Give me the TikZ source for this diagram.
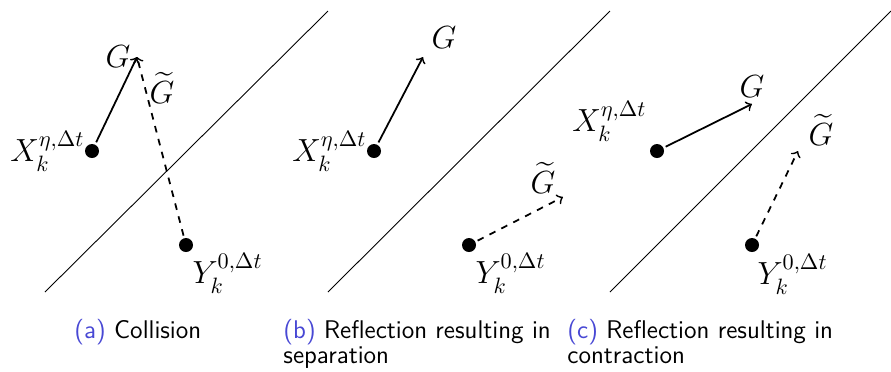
\documentclass[tikz,border=0pt]{standalone}
\usepackage{amsmath}
\definecolor{caplab}{RGB}{72,72,212}
\begin{document}
\begin{tikzpicture}[x=0.45pt,y=-0.45pt,
  wall/.style={line width=0.4pt},
  dotnode/.style={circle,fill=black,inner sep=0pt,minimum size=6.3pt},
  vec/.style={->,line width=0.8pt,shorten <=1pt},
  dvec/.style={->,dashed,line width=0.8pt,shorten <=1pt},
  lbl/.style={inner sep=0.5pt,font=\fontsize{14}{16}\selectfont},
  captext/.style={font=\sffamily\fontsize{11.5}{11}\selectfont,anchor=north west,inner sep=0pt,align=left}]
\useasboundingbox (0,0) rectangle (891,371);
% walls
\coordinate (wa1) at (45,292); \coordinate (wa2) at (328,11);
\coordinate (wb1) at (328,292); \coordinate (wb2) at (610,11);
\coordinate (wc1) at (610,292); \coordinate (wc2) at (891,11);
\draw[wall] (wa1) -- (wa2);
\draw[wall] (wb1) -- (wb2);
\draw[wall] (wc1) -- (wc2);
% panel a
\node[dotnode] (xa) at (92,151) {};
\node[dotnode] (ya) at (186,245) {};
\coordinate (ga) at (137,57);
\draw[vec] (xa) -- (ga);
\draw[dvec] (ya) -- (ga);
\node[lbl,anchor=east] (xla) at (86,151) {$X_k^{\eta,\Delta t}$};
\node[lbl,anchor=west] (yla) at (191,273) {$Y_k^{0,\Delta t}$};
\node[lbl] (gla) at (118,57) {$G$};
\node[lbl] (gta) at (162,88) {$\widetilde{G}$};
% panel b
\node[dotnode] (xb) at (374,151) {};
\node[dotnode] (yb) at (469,245) {};
\coordinate (gb) at (423,57);
\coordinate (gtb) at (563,197);
\draw[vec] (xb) -- (gb);
\draw[dvec] (yb) -- (gtb);
\node[lbl,anchor=east] (xlb) at (368,151) {$X_k^{\eta,\Delta t}$};
\node[lbl,anchor=west] (ylb) at (474,273) {$Y_k^{0,\Delta t}$};
\node[lbl] (glb) at (444,38) {$G$};
\node[lbl] (gtb2) at (543,178) {$\widetilde{G}$};
% panel c
\node[dotnode] (xc) at (657,151) {};
\node[dotnode] (yc) at (752,245) {};
\coordinate (gc) at (752,104);
\coordinate (gtc) at (798,151);
\draw[vec] (xc) -- (gc);
\draw[dvec] (yc) -- (gtc);
\node[lbl,anchor=east] (xlc) at (648,121) {$X_k^{\eta,\Delta t}$};
\node[lbl,anchor=west] (ylc) at (756,274) {$Y_k^{0,\Delta t}$};
\node[lbl] (glc) at (752,87) {$G$};
\node[lbl] (gtc2) at (821,130) {$\widetilde{G}$};
% captions
\node[captext] (ca) at (74,319) {\textcolor{caplab}{(a)} Collision};
\node[captext] (cb) at (283,319) {\textcolor{caplab}{(b)} Reflection resulting in\\separation};
\node[captext] (cc) at (567,319) {\textcolor{caplab}{(c)} Reflection resulting in\\contraction};
\end{tikzpicture}
\end{document}
